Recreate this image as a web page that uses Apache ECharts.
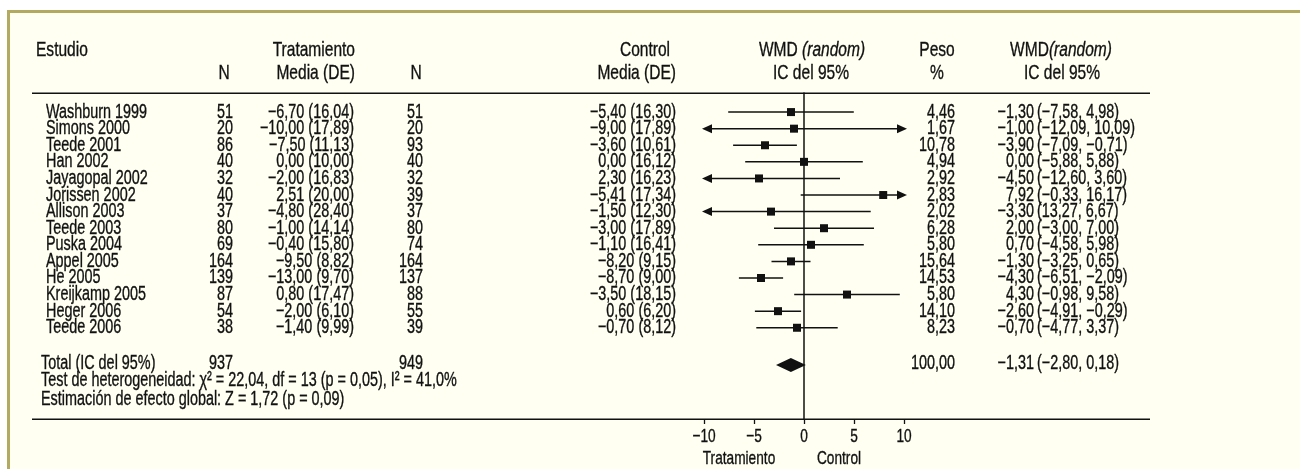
<!DOCTYPE html>
<html>
<head>
<meta charset="utf-8">
<script src="https://cdn.jsdelivr.net/npm/echarts@6/dist/echarts.min.js"></script>
<style>
  html, body { margin: 0; padding: 0; background: #fff; }
  #chart { width: 1300px; height: 469px; }
</style>
</head>
<body>
<div id="chart"></div>
<script>
const studies = ['Washburn 1999', 'Simons 2000', 'Teede 2001', 'Han 2002', 'Jayagopal 2002', 'Jorissen 2002',
  'Allison 2003', 'Teede 2003', 'Puska 2004', 'Appel 2005', 'He 2005', 'Kreijkamp 2005', 'Heger 2006', 'Teede 2006'];
const nTrat = [51, 20, 86, 40, 32, 40, 37, 80, 69, 164, 139, 87, 54, 38];
const meanTrat = [-6.70, -10.00, -7.50, 0.00, -2.00, 2.51, -4.80, -1.00, -0.40, -9.50, -13.00, 0.80, -2.00, -1.40];
const sdTrat = [16.04, 17.89, 11.13, 10.00, 16.83, 20.00, 28.40, 14.14, 15.80, 8.82, 9.70, 17.47, 6.10, 9.99];
const nCtrl = [51, 20, 93, 40, 32, 39, 37, 80, 74, 164, 137, 88, 55, 39];
const meanCtrl = [-5.40, -9.00, -3.60, 0.00, 2.30, -5.41, -1.50, -3.00, -1.10, -8.20, -8.70, -3.50, 0.60, -0.70];
const sdCtrl = [16.30, 17.89, 10.61, 16.12, 16.23, 17.34, 12.30, 17.89, 16.41, 9.15, 9.00, 18.15, 6.20, 8.12];
const wmd = [-1.30, -1.00, -3.90, 0.00, -4.50, 7.92, -3.30, 2.00, 0.70, -1.30, -4.30, 4.30, -2.60, -0.70];
const ciLow = [-7.58, -12.09, -7.09, -5.88, -12.60, -0.33, -13.27, -3.00, -4.58, -3.25, -6.51, -0.98, -4.91, -4.77];
const ciHigh = [4.98, 10.09, -0.71, 5.88, 3.60, 16.17, 6.67, 7.00, 5.98, 0.65, -2.09, 9.58, -0.29, 3.37];
const ciText = ['(−7,58, 4,98)', '(−12,09, 10,09)', '(−7,09, −0,71)', '(−5,88, 5,88)', '(−12,60, 3,60)',
  '(−0,33, 16,17)', '(13,27, 6,67)', '(−3,00, 7,00)', '(−4,58, 5,98)', '(−3,25, 0,65)', '(−6,51, −2,09)',
  '(−0,98, 9,58)', '(−4,91, −0,29)', '(−4,77, 3,37)'];
const weight = [4.46, 1.67, 10.78, 4.94, 2.92, 2.83, 2.02, 6.28, 5.80, 15.64, 14.53, 5.80, 14.10, 8.23];

const total = { nTrat: 937, nCtrl: 949, weight: 100.00, wmd: -1.31, low: -2.80, high: 0.18 };
const xTicks = [-10, -5, 0, 5, 10];

const FONT = '"Liberation Sans", Arial, sans-serif';
const FS = 20;
const SX = 0.72; // tipografia condensada
const INK = '#111';
const TOTAL_ROW = 15.25;

function fmt(v) {
  return (v < 0 ? '\u2212' : '') + Math.abs(v).toFixed(2).replace('.', ',');
}

function txt(text, x, y, align, size, sx, rich) {
  const el = {
    type: 'text',
    x: x, y: y, scaleX: sx || SX,
    style: {
      text: text, x: 0, y: 0, fill: INK, stroke: INK, lineWidth: 0.35,
      fontSize: size || FS, fontFamily: FONT,
      align: align, textAlign: align, verticalAlign: 'middle', textVerticalAlign: 'middle'
    }
  };
  if (rich) el.style.rich = rich;
  return el;
}

const HFS = 21, HSX = 0.74;
const italicRich = {
  n: { fontSize: HFS, fontFamily: FONT, fill: INK, stroke: INK, lineWidth: 0.35 },
  i: { fontSize: HFS, fontFamily: FONT, fontStyle: 'italic', fill: INK, stroke: INK, lineWidth: 0.35 }
};

const chart = echarts.init(document.getElementById('chart'));

const option = {
  backgroundColor: '#fff',
  animation: false,
  grid: { left: 704, right: 396, top: 93, bottom: 50 },
  xAxis: {
    type: 'value', min: -10, max: 10, interval: 5,
    axisLine: { show: false, onZero: false },
    axisTick: { show: true, length: 5, lineStyle: { color: INK, width: 1.3 } },
    axisLabel: { show: false },
    splitLine: { show: false }
  },
  yAxis: {
    type: 'value', inverse: true, min: -1.15, max: 18.5,
    axisLine: { show: true, onZero: true, lineStyle: { color: INK, width: 1.5 } },
    axisTick: { show: false }, axisLabel: { show: false }, splitLine: { show: false }
  },
  graphic: [
    { type: 'rect', z: -10, shape: { x: 7, y: 10, width: 1293, height: 459 }, style: { fill: '#fffff2' } },
    { type: 'rect', z: -9, shape: { x: 7, y: 10, width: 1293, height: 3 }, style: { fill: '#b3aa62' } },
    { type: 'rect', z: -9, shape: { x: 7, y: 10, width: 3, height: 459 }, style: { fill: '#b3aa62' } },
    { type: 'rect', shape: { x: 32, y: 92.5, width: 1118, height: 1.5 }, style: { fill: INK } },
    { type: 'rect', shape: { x: 32, y: 418.5, width: 1118, height: 1.5 }, style: { fill: INK } },
    txt('Estudio', 36, 50, 'left', HFS, HSX),
    txt('N', 224, 73, 'center', HFS, HSX),
    txt('Tratamiento', 355, 50, 'right', HFS, HSX),
    txt('Media (DE)', 355, 73, 'right', HFS, HSX),
    txt('N', 416, 73, 'center', HFS, HSX),
    txt('Control', 670, 50, 'right', HFS, HSX),
    txt('Media (DE)', 676, 73, 'right', HFS, HSX),
    txt('{n|WMD }{i|(random)}', 812, 50, 'center', HFS, HSX, italicRich),
    txt('IC del 95%', 811, 73, 'center', HFS, HSX),
    txt('Peso', 937, 50, 'center', HFS, HSX),
    txt('%', 937, 73, 'center', HFS, HSX),
    txt('{n|WMD}{i|(random)}', 1061, 50, 'center', HFS, HSX, italicRich),
    txt('IC del 95%', 1062, 73, 'center', HFS, HSX),
    txt('Test de heterogeneidad: χ² = 22,04, df = 13 (p = 0,05), I² = 41,0%', 41, 380, 'left'),
    txt('Estimación de efecto global: Z = 1,72 (p = 0,09)', 41, 399, 'left'),
    txt('Tratamiento', 739, 459, 'center', 19),
    txt('Control', 839, 459, 'center', 19)
  ],
  series: [
    {
      // columnas de texto de la tabla
      type: 'custom',
      clip: false,
      data: studies.map((s, i) => [0, i]),
      renderItem(params, api) {
        const i = params.dataIndex;
        const y = api.coord([0, api.value(1)])[1];
        return {
          type: 'group',
          children: [
            txt(studies[i], 46, y, 'left'),
            txt(String(nTrat[i]), 233, y, 'right'),
            txt(fmt(meanTrat[i]) + ' (' + fmt(sdTrat[i]) + ')', 354, y, 'right'),
            txt(String(nCtrl[i]), 423, y, 'right'),
            txt(fmt(meanCtrl[i]) + ' (' + fmt(sdCtrl[i]) + ')', 676, y, 'right'),
            txt(fmt(weight[i]), 955, y, 'right'),
            txt(fmt(wmd[i]), 1034, y, 'right'),
            txt(ciText[i], 1037, y, 'left')
          ]
        };
      }
    },
    {
      // fila total
      type: 'custom',
      clip: false,
      data: [[0, TOTAL_ROW]],
      renderItem(params, api) {
        const y = api.coord([0, api.value(1)])[1] - 2;
        return {
          type: 'group',
          children: [
            txt('Total (IC del 95%)', 41, y, 'left'),
            txt(String(total.nTrat), 233, y, 'right'),
            txt(String(total.nCtrl), 423, y, 'right'),
            txt(fmt(total.weight), 955, y, 'right'),
            txt(fmt(total.wmd), 1034, y, 'right'),
            txt('(' + fmt(total.low) + ', ' + fmt(total.high) + ')', 1037, y, 'left')
          ]
        };
      }
    },
    {
      // etiquetas del eje x
      type: 'custom',
      clip: false,
      data: xTicks.map(v => [v, 18.5]),
      renderItem(params, api) {
        const v = api.value(0);
        const p = api.coord([v, api.value(1)]);
        return txt(v < 0 ? '\u2212' + Math.abs(v) : String(v), p[0], p[1] + 18, 'center', 19);
      }
    },
    {
      // intervalos de confianza y cuadrados
      type: 'custom',
      clip: false,
      z: 5,
      data: wmd.map((v, i) => [v, i, ciLow[i], ciHigh[i], weight[i]]),
      renderItem(params, api) {
        const est = api.value(0), row = api.value(1), lo = api.value(2), hi = api.value(3);
        const y = api.coord([0, row])[1];
        const pe = api.coord([est, row])[0];
        const kids = [];
        let x1 = api.coord([Math.max(lo, -10), row])[0];
        let x2 = api.coord([Math.min(hi, 10), row])[0];
        if (lo < -10) {
          const tip = x1 - 2;
          kids.push({ type: 'polygon', shape: { points: [[tip, y], [tip + 10, y - 4.5], [tip + 10, y + 4.5]] }, style: { fill: INK } });
          x1 = tip + 5;
        }
        if (hi > 10) {
          const tip = x2 + 3;
          kids.push({ type: 'polygon', shape: { points: [[tip, y], [tip - 10, y - 4.5], [tip - 10, y + 4.5]] }, style: { fill: INK } });
          x2 = tip - 5;
        }
        kids.push({ type: 'line', shape: { x1: x1, y1: y, x2: x2, y2: y }, style: { stroke: INK, lineWidth: 1.5 } });
        kids.push({ type: 'rect', shape: { x: pe - 4, y: y - 4, width: 8, height: 8 }, style: { fill: INK } });
        return { type: 'group', children: kids };
      }
    },
    {
      // diamante del efecto global
      type: 'custom',
      clip: false,
      z: 5,
      data: [[total.wmd, TOTAL_ROW, total.low, total.high]],
      renderItem(params, api) {
        const row = api.value(1);
        const c = api.coord([api.value(0), row]);
        const l = api.coord([api.value(2), row])[0];
        const r = api.coord([api.value(3), row])[0];
        return {
          type: 'polygon',
          shape: { points: [[l, c[1]], [c[0], c[1] - 7], [r, c[1]], [c[0], c[1] + 7]] },
          style: { fill: INK }
        };
      }
    }
  ]
};

chart.setOption(option);
</script>
</body>
</html>
